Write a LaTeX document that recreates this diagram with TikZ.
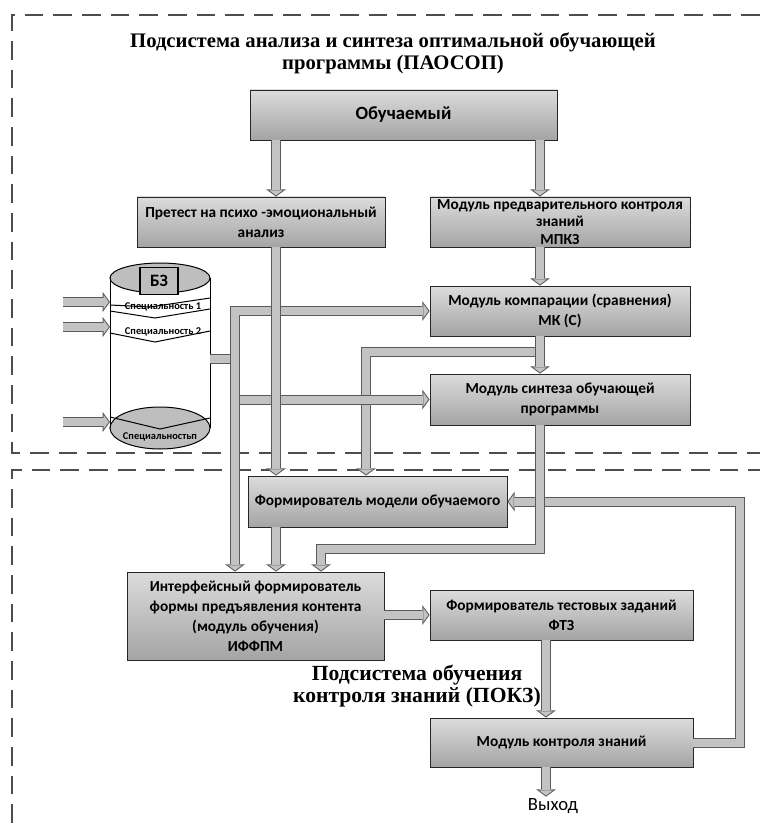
\documentclass[tikz,border=0pt]{standalone}
\usepackage{fontspec}
\setmainfont{Carlito}
\newfontfamily\boxfont{Carlito}
\newfontfamily\headfont{Liberation Serif}
\usetikzlibrary{arrows.meta}

\definecolor{flowfill}{HTML}{C3C3C3}
\definecolor{flowedge}{HTML}{5A5A5A}
\definecolor{boxtop}{HTML}{DCDCDC}
\definecolor{boxbot}{HTML}{A4A4A4}
\definecolor{dashgray}{HTML}{4D4D4D}
\definecolor{cylgray}{HTML}{BEBEBE}

\tikzset{every picture/.style={line width=0.75pt}}
\tikzset{
    blk/.style 2 args={draw=black!85, line width=0.6pt, top color=boxtop, bottom color=boxbot,
        minimum width=#1*0.75pt, minimum height=#2*0.75pt, inner sep=0pt, align=center,
        font=\boxfont\bfseries\fontsize{11.5}{15}\selectfont},
    tight/.style={font=\boxfont\bfseries\fontsize{11.5}{13}\selectfont},
    headtxt/.style={inner sep=0pt, align=center, font=\headfont\bfseries\fontsize{15.5}{16.5}\selectfont},
    spec/.style={inner sep=0pt, font=\boxfont\bfseries\fontsize{7.8}{8}\selectfont},
    dashframe/.style={draw=dashgray, line width=1.6pt, dash pattern=on 14pt off 7.5pt},
    flow/.style={draw=flowfill, line width=6pt, shorten >=0.93pt,
        -{Triangle[length=3.82pt, width=10.4pt, line width=0pt]},
        preaction={draw=flowedge, line width=7.5pt, shorten >=0pt,
            -{Triangle[length=5.5pt, width=15pt, line width=0pt]}}},
    flowline/.style={draw=flowfill, line width=6pt,
        preaction={draw=flowedge, line width=7.5pt}}
}

\begin{document}
\begin{tikzpicture}[x=0.75pt,y=0.75pt,yscale=-1,xscale=1]
    \useasboundingbox (0,0) rectangle (760,823);

    %Dashed frames
    \draw[dashframe] (760,15) -- (12,15) -- (12,453) -- (760,453);
    \draw[dashframe] (12,823) -- (12,470) -- (760,470);

    % Text Node
    \node[headtxt] (ttlA) at (393,53) {Подсистема анализа и синтеза оптимальной обучающей\\программы (ПАОСОП)};
    % Text Node
    \node[headtxt, font=\headfont\bfseries\fontsize{16.2}{17}\selectfont] (ttlB) at (417,686) {Подсистема обучения\\контроля знаний (ПОКЗ)};

    %Shape: Blocks
    \node[blk={307}{50}, font=\boxfont\bfseries\fontsize{14}{16}\selectfont] (obuch) at (403.5,115) {Обучаемый};
    \node[blk={248}{50}] (pretest) at (261,222) {Претест на психо -эмоциональный\\анализ};
    \node[blk={260}{50}, tight] (mpkz) at (560,222) {Модуль предварительного контроля\\знаний\\МПКЗ};
    \node[blk={260}{50}] (mk) at (560,311) {Модуль компарации (сравнения)\\МК (С)};
    \node[blk={260}{51}] (msint) at (560,399.5) {Модуль синтеза обучающей\\программы};
    \node[blk={259}{51}] (fmod) at (377.5,501.5) {Формирователь модели обучаемого};
    \node[blk={257}{88}] (iffpm) at (255.5,616) {Интерфейсный формирователь\\формы предъявления контента\\(модуль обучения)\\ИФФПМ};
    \node[blk={263}{50}] (ftz) at (561.5,615) {Формирователь тестовых заданий\\ФТЗ};
    \node[blk={263}{49}] (mkz) at (561.5,742.5) {Модуль контроля знаний};
    % Text Node
    \node[inner sep=1pt, font=\boxfont\fontsize{14}{15}\selectfont] (vyhod) at (553,806) {Выход};

    %Shape: Can
    \fill[white] (110,278) rectangle (210,428);
    \draw[fill=cylgray] (160,428) ellipse (50 and 21);
    \draw (110,278) -- (110,428) (210,278) -- (210,428);
    \draw[fill=cylgray] (160,278) ellipse (50 and 15);
    \draw (110,305) -- (150,307) -- (210,298);
    \draw (110,311) -- (155,318) -- (210,309);
    \draw (110,333) -- (155,342) -- (210,331);
    \draw (110,417) -- (160,429) -- (210,418);
    \node[draw, line width=1.1pt, fill=cylgray, minimum width=28.5pt, minimum height=20pt,
        font=\boxfont\bfseries\fontsize{13}{14}\selectfont] (bz) at (159,281) {БЗ};
    \node[spec] (sp1) at (163,307) {Специальность 1};
    \node[spec] (sp2) at (163,332) {Специальность 2};
    \node[spec] (spn) at (160,437) {Специальностьп};

    %Columns
    \coordinate (colL) at (276,0);
    \coordinate (colR) at (540,0);
    \coordinate (colB) at (235,0);
    \coordinate (colK) at (546,0);
    \coordinate (colO) at (740,0);
    \coordinate (colM) at (366,352);
    \coordinate (colI) at (321,549);
    \coordinate (cylR) at (210,359);
    \coordinate (stub) at (235,359);
    \coordinate (src1) at (63,302);
    \coordinate (in1) at (110,302);
    \coordinate (src2) at (63,327);
    \coordinate (in2) at (110,327);
    \coordinate (src3) at (63,422);
    \coordinate (in3) at (110,422);

    %Straight Lines
    \draw[flow] (mkz.east) -- (colO |- mkz.east) -- (colO |- fmod.east) -- (fmod.east);
    \draw[flow] (colR |- colM) -- (colM) -- (fmod.north -| colM);
    \draw[flow] (msint.south -| colR) -- (colR |- colI) -- (colI) -- (iffpm.north -| colI);
    \draw[flow] (colB |- msint.west) -- (msint.west);
    \draw[flowline] (cylR) -- (stub);
    \draw[flow] (stub) -- (colB |- mk.west) -- (mk.west);
    \draw[flow] (stub) -- (iffpm.north -| colB);
    \draw[flow] (src1) -- (in1);
    \draw[flow] (src2) -- (in2);
    \draw[flow] (src3) -- (in3);
    \draw[flow] (obuch.south -| colL) -- (pretest.north -| colL);
    \draw[flow] (pretest.south -| colL) -- (fmod.north -| colL);
    \draw[flow] (fmod.south -| colL) -- (iffpm.north -| colL);
    \draw[flow] (obuch.south -| colR) -- (mpkz.north -| colR);
    \draw[flow] (mpkz.south -| colR) -- (mk.north -| colR);
    \draw[flow] (mk.south -| colR) -- (msint.north -| colR);
    \draw[flow] (iffpm.east |- ftz.west) -- (ftz.west);
    \draw[flow] (ftz.south -| colK) -- (mkz.north -| colK);
    \draw[flow] (mkz.south -| colK) -- (vyhod.north -| colK);

\end{tikzpicture}
\end{document}
